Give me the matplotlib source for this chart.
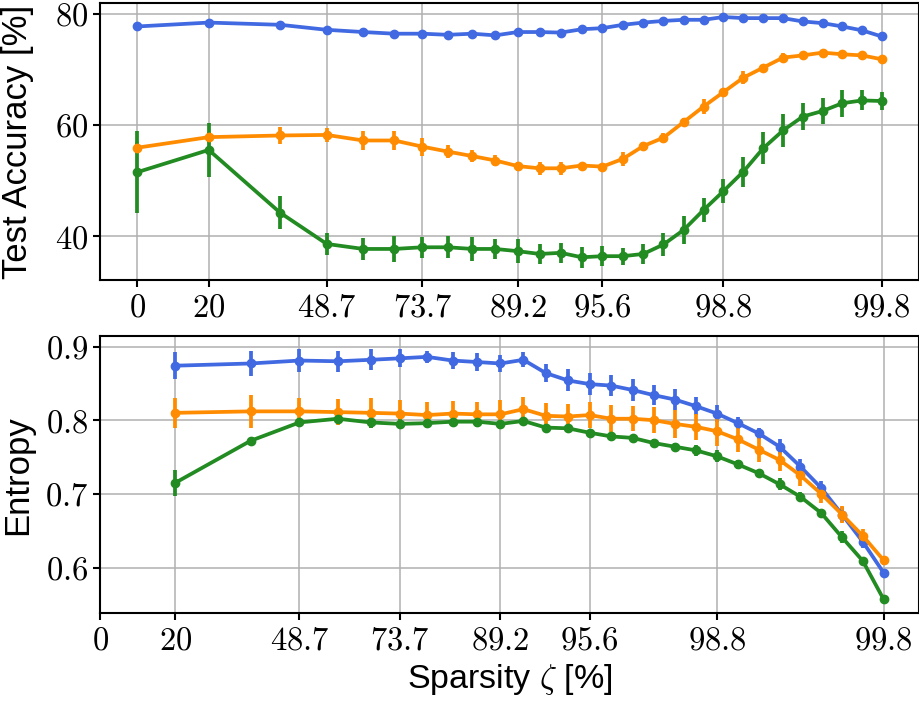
import numpy as np
import matplotlib
matplotlib.use('Agg')
import matplotlib.pyplot as plt

# sparsity levels of the pruning rounds [%]
sparsity = [0, 20, 36, 48.8, 59.04, 67.232, 73.7856, 79.0285, 83.2228, 86.5782,
            89.2626, 91.4101, 93.1281, 94.5024, 95.6020, 96.4816, 97.1853, 97.7482,
            98.1986, 98.5588, 98.8471, 99.0777, 99.2621, 99.4097, 99.5278, 99.6222,
            99.6978, 99.7582, 99.8066]
tick_idx = [0, 1, 3, 6, 10, 14, 20, 28]
tick_labels = ['0', '20', '48.7', '73.7', '89.2', '95.6', '98.8', '99.8']

# test accuracy [%] (all 29 rounds)
acc_blue = [77.7, 78.4, 78.0, 77.1, 76.7, 76.4, 76.4, 76.2, 76.4, 76.1,
            76.7, 76.7, 76.6, 77.2, 77.4, 78.0, 78.4, 78.7, 78.9, 78.9,
            79.4, 79.2, 79.2, 79.2, 78.6, 78.3, 77.7, 77.0, 75.9]
acc_blue_err = [0.2] * 29
acc_orange = [55.9, 57.8, 58.1, 58.2, 57.2, 57.2, 56.1, 55.2, 54.4, 53.6,
              52.6, 52.2, 52.2, 52.7, 52.5, 53.9, 56.2, 57.7, 60.5, 63.3,
              65.9, 68.5, 70.3, 72.1, 72.5, 73.0, 72.7, 72.5, 71.8]
acc_orange_err = [1.0, 1.0, 1.6, 1.3, 1.7, 1.7, 1.6, 1.2, 1.0, 1.0,
                  0.8, 1.2, 1.2, 0.5, 0.4, 1.3, 0.8, 0.8, 0.7, 1.3,
                  0.5, 1.2, 0.5, 0.8, 0.4, 0.4, 0.4, 0.4, 0.4]
acc_green = [51.5, 55.5, 44.2, 38.6, 37.7, 37.7, 38.0, 38.0, 37.7, 37.7,
             37.3, 36.8, 37.0, 36.2, 36.4, 36.4, 36.8, 38.5, 41.1, 44.7,
             48.1, 51.6, 55.8, 59.0, 61.5, 62.5, 63.9, 64.4, 64.3]
acc_green_err = [7.4, 4.8, 3.0, 1.9, 2.0, 2.3, 1.9, 2.0, 2.1, 1.8,
                 2.1, 1.8, 1.8, 1.9, 1.8, 1.5, 1.8, 2.0, 2.5, 2.1,
                 2.1, 2.7, 2.9, 2.9, 2.4, 2.4, 2.4, 1.8, 1.6]

# entropy (rounds 1..28)
ent_blue = [0.874, 0.877, 0.881, 0.880, 0.882, 0.884, 0.886, 0.881, 0.879, 0.877,
            0.882, 0.864, 0.854, 0.849, 0.847, 0.841, 0.834, 0.828, 0.819, 0.809,
            0.796, 0.782, 0.764, 0.737, 0.708, 0.672, 0.635, 0.593]
ent_blue_err = [0.018, 0.017, 0.016, 0.014, 0.014, 0.012, 0.008, 0.012, 0.012, 0.012,
                0.010, 0.012, 0.015, 0.015, 0.014, 0.015, 0.014, 0.014, 0.012, 0.012,
                0.008, 0.008, 0.010, 0.011, 0.010, 0.010, 0.008, 0.005]
ent_orange = [0.810, 0.812, 0.812, 0.811, 0.810, 0.809, 0.807, 0.809, 0.808, 0.808,
              0.815, 0.806, 0.805, 0.807, 0.802, 0.802, 0.800, 0.795, 0.791, 0.785,
              0.774, 0.760, 0.746, 0.725, 0.700, 0.672, 0.643, 0.610]
ent_orange_err = [0.020, 0.022, 0.018, 0.018, 0.020, 0.018, 0.018, 0.017, 0.017, 0.020,
                  0.017, 0.017, 0.017, 0.018, 0.018, 0.017, 0.018, 0.019, 0.018, 0.020,
                  0.017, 0.017, 0.015, 0.014, 0.012, 0.012, 0.009, 0.006]
ent_green = [0.715, 0.772, 0.797, 0.802, 0.797, 0.795, 0.796, 0.798, 0.798, 0.795,
             0.799, 0.790, 0.789, 0.783, 0.778, 0.776, 0.769, 0.764, 0.759, 0.751,
             0.740, 0.728, 0.713, 0.696, 0.674, 0.641, 0.609, 0.557]
ent_green_err = [0.018, 0.002, 0.005, 0.005, 0.008, 0.006, 0.005, 0.004, 0.005, 0.004,
                 0.003, 0.003, 0.003, 0.004, 0.003, 0.003, 0.006, 0.005, 0.007, 0.008,
                 0.006, 0.004, 0.008, 0.006, 0.006, 0.008, 0.003, 0.002]

colors = ['royalblue', 'darkorange', 'forestgreen']

plt.rcParams['font.family'] = ['Liberation Sans', 'DejaVu Sans']
plt.rcParams['mathtext.fontset'] = 'cm'
plt.rcParams['font.size'] = 23.5
plt.rcParams['axes.linewidth'] = 1.5
plt.rcParams['xtick.major.width'] = 1.5
plt.rcParams['ytick.major.width'] = 1.5
plt.rcParams['xtick.major.size'] = 5
plt.rcParams['ytick.major.size'] = 5

# x as fraction on a logit axis; sparsity 0 is drawn at 10% (logit(0) is -inf)
x = np.array(sparsity) / 100.0
x[0] = 0.1
ticks = [x[i] for i in tick_idx]
tick_text = ['$%s$' % t for t in tick_labels]

fig, (ax1, ax2) = plt.subplots(2, 1, figsize=(9.2, 7.03), dpi=100)
fig.subplots_adjust(left=0.1087, right=0.9989, top=0.9953, bottom=0.1276, hspace=0.201)

style = dict(marker='o', ms=6, lw=2.7, elinewidth=2.7, capsize=0)

# Test accuracy
for y, e, c in zip([acc_blue, acc_orange, acc_green],
                   [acc_blue_err, acc_orange_err, acc_green_err], colors):
    ax1.errorbar(x, y, yerr=e, color=c, **style)
ax1.set_xscale('logit')
ax1.set_xticks(ticks, tick_text)
ax1.xaxis.set_minor_locator(matplotlib.ticker.NullLocator())
ax1.set_yticks([40, 60, 80], ['$40$', '$60$', '$80$'])
ax1.set_ylabel('Test Accuracy [%]', fontsize=25, labelpad=8)
ax1.grid(True, color='#b0b0b0', lw=1.1)
ax1.set_axisbelow(True)

# Entropy
for y, e, c in zip([ent_blue, ent_orange, ent_green],
                   [ent_blue_err, ent_orange_err, ent_green_err], colors):
    ax2.errorbar(x[1:], y, yerr=e, color=c, **style)
ax2.set_xscale('logit')
ax2.set_xlim(left=0.1)
ax2.set_xticks(ticks, tick_text)
ax2.xaxis.set_minor_locator(matplotlib.ticker.NullLocator())
ax2.set_yticks([0.6, 0.7, 0.8, 0.9], ['$0.6$', '$0.7$', '$0.8$', '$0.9$'])
ax2.set_ylabel('Entropy', fontsize=25, labelpad=8)
ax2.set_xlabel(r'Sparsity $\zeta$ [%]', fontsize=24.5)
ax2.grid(True, color='#b0b0b0', lw=1.1)
ax2.set_axisbelow(True)

fig.align_ylabels([ax1, ax2])
plt.savefig('out.png', dpi=100)
